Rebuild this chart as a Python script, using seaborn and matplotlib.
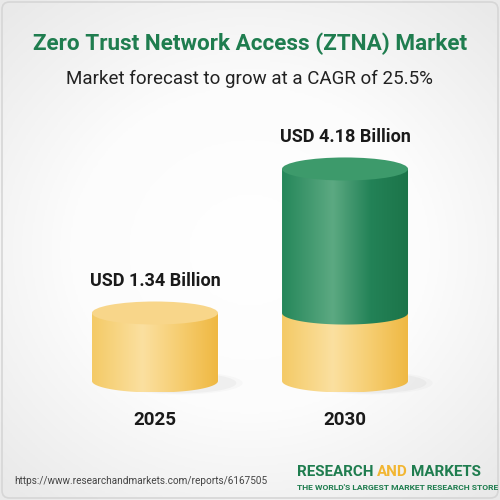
import numpy as np
import pandas as pd
import matplotlib
matplotlib.use('Agg')
import matplotlib.pyplot as plt
import seaborn as sns
from matplotlib.patches import Ellipse, Polygon, FancyBboxPatch
from matplotlib.colors import LinearSegmentedColormap

# Data
years = ['2025', '2030']
market_size = [1.34, 4.18]      # USD billion
base_level = [1.34, 1.34]       # 2025 level, drawn yellow in both cylinders
value_labels = ['USD 1.34 Billion', 'USD 4.18 Billion']

title = 'Zero Trust Network Access (ZTNA) Market'
subtitle = 'Market forecast to grow at a CAGR of 25.5%'
url = 'https://www.researchandmarkets.com/reports/6167505'
tagline = "THE WORLD'S LARGEST MARKET RESEARCH STORE"

green = '#1f7d4f'
yellow = '#f5c65c'
logo_yellow = '#f2b632'

yellow_cmap = LinearSegmentedColormap.from_list(
    'yel', [(0, '#f4ca66'), (0.4, '#fbe0a0'), (0.7, '#f6cd70'), (1, '#efb842')])
green_cmap = LinearSegmentedColormap.from_list(
    'grn', [(0, '#25875a'), (0.4, '#5ca982'), (0.7, '#238257'), (1, '#1c7449')])
top_colors = {'2025': '#f8d68a', '2030': '#3d9a6b'}
body_cmaps = {'2025': yellow_cmap, '2030': green_cmap}

sns.set_theme(style='white')
plt.rcParams['font.family'] = ['Roboto', 'DejaVu Sans']

fig = plt.figure(figsize=(5, 5), dpi=100)
fig.patch.set_facecolor('#f4f4f4')

# soft background
bg = fig.add_axes([0, 0, 1, 1], zorder=-10)
yy, xx = np.mgrid[-1:1:200j, -1:1:200j]
rr = np.sqrt(xx ** 2 + (yy * 1.1) ** 2)
bg.imshow(rr, cmap=LinearSegmentedColormap.from_list('bg', ['#ffffff', '#fcfcfc', '#e9e9e9']),
          extent=[0, 1, 0, 1], aspect='auto', vmin=0, vmax=1.45)
bg.add_patch(FancyBboxPatch((0.004, 0.004), 0.992, 0.992, boxstyle='round,pad=0,rounding_size=0.015',
                            facecolor='none', edgecolor='#d6d6d6', lw=1.2, transform=bg.transAxes))
bg.set_xlim(0, 1)
bg.set_ylim(0, 1)
bg.axis('off')

# Main axes
ax = fig.add_axes([0.08, 0.2, 0.84, 0.6])
ax.set_facecolor('none')
df = pd.DataFrame({'year': years, 'size': market_size, 'base': base_level})

bar_w = 0.663
sns.barplot(data=df, x='year', y='size', hue='year', palette=[yellow, green],
            width=bar_w, saturation=1, legend=False, ax=ax)
sns.barplot(data=df, x='year', y='base', color=yellow, width=bar_w, saturation=1, ax=ax)

size_bars = ax.patches[:2]
base_bars = ax.patches[2:4]
b = 0.227  # half height of the ellipse caps (data units)


def shade(patch, y_low, y_high, cmap, zorder):
    x0, w = patch.get_x(), patch.get_width()
    xc = x0 + w / 2
    t = np.linspace(0, np.pi, 80)
    arc = np.column_stack([xc + w / 2 * np.cos(t), y_low - b * np.sin(t)])
    verts = np.vstack([[x0, y_high], [x0 + w, y_high], arc])
    poly = Polygon(verts, closed=True, facecolor='none', edgecolor='none')
    ax.add_patch(poly)
    grad = np.linspace(0, 1, 256).reshape(1, -1)
    im = ax.imshow(grad, cmap=cmap, extent=[x0, x0 + w, y_low - b, y_high],
                   aspect='auto', zorder=zorder, interpolation='bicubic')
    im.set_clip_path(poly)


# soft shadows, a little to the right of each cylinder foot
for p in base_bars:
    xc = p.get_x() + p.get_width() / 2
    for k, a in [(1.0, 0.02), (0.9, 0.03)]:
        ax.add_patch(Ellipse((xc + 0.13, -0.04), p.get_width() * k, 2 * b * k,
                             facecolor='black', alpha=a, edgecolor='none', zorder=1))

# yellow base segments
for p in base_bars:
    shade(p, p.get_y(), p.get_y() + p.get_height(), yellow_cmap, 3)

# upper segments and top caps
for p, yr, base in zip(size_bars, years, base_level):
    top = p.get_y() + p.get_height()
    xc = p.get_x() + p.get_width() / 2
    if top > base:
        shade(p, base, top, body_cmaps[yr], 4)
    ax.add_patch(Ellipse((xc, top), p.get_width(), 2 * b, facecolor=top_colors[yr],
                         edgecolor='none', zorder=5))

# value labels
for p, lab in zip(size_bars, value_labels):
    top = p.get_y() + p.get_height()
    xc = p.get_x() + p.get_width() / 2
    ax.annotate(lab, (xc, top + b), xytext=(0, 8), textcoords='offset points',
                ha='center', va='bottom', fontsize=13, fontweight='bold', color='#1a1a1a')

ax.set_xlim(-0.605, 1.605)
ax.set_ylim(-0.375, 5.54)
ax.set_xlabel('')
ax.set_ylabel('')
ax.set_yticks([])
ax.set_xticks([0, 1])
ax.set_xticklabels(years, fontsize=13.5, fontweight='bold', color='#1a1a1a')
ax.tick_params(axis='x', length=0, pad=8)
sns.despine(ax=ax, left=True, bottom=True)

# titles
fig.text(0.5, 1 - 44 / 500, title, ha='center', va='center', fontsize=16.2,
         fontweight='bold', color=green)
fig.text(0.5, 1 - 79 / 500, subtitle, ha='center', va='center', fontsize=13.5, color='#222222')

# footer
fig.text(14 / 500, 1 - 481 / 500, url, ha='left', va='center', fontsize=7.2, color='#444444')
t1 = fig.text(297 / 500, 1 - 472 / 500, 'RESEARCH', ha='left', va='center',
              fontsize=10.9, fontweight='bold', color=green)
t2 = ax.annotate('AND', xy=(1, 0), xycoords=t1, xytext=(2.5, 0), textcoords='offset points',
                 ha='left', va='bottom', fontsize=10.9, fontweight='bold', color=logo_yellow,
                 annotation_clip=False)
ax.annotate('MARKETS', xy=(1, 0), xycoords=t2, xytext=(2.5, 0), textcoords='offset points',
            ha='left', va='bottom', fontsize=10.9, fontweight='bold', color=green,
            annotation_clip=False)
fig.text(297 / 500, 1 - 487.5 / 500, tagline, ha='left', va='center', fontsize=6.1,
         fontweight='bold', color=green)

fig.savefig('out.png', dpi=100, facecolor=fig.get_facecolor())
